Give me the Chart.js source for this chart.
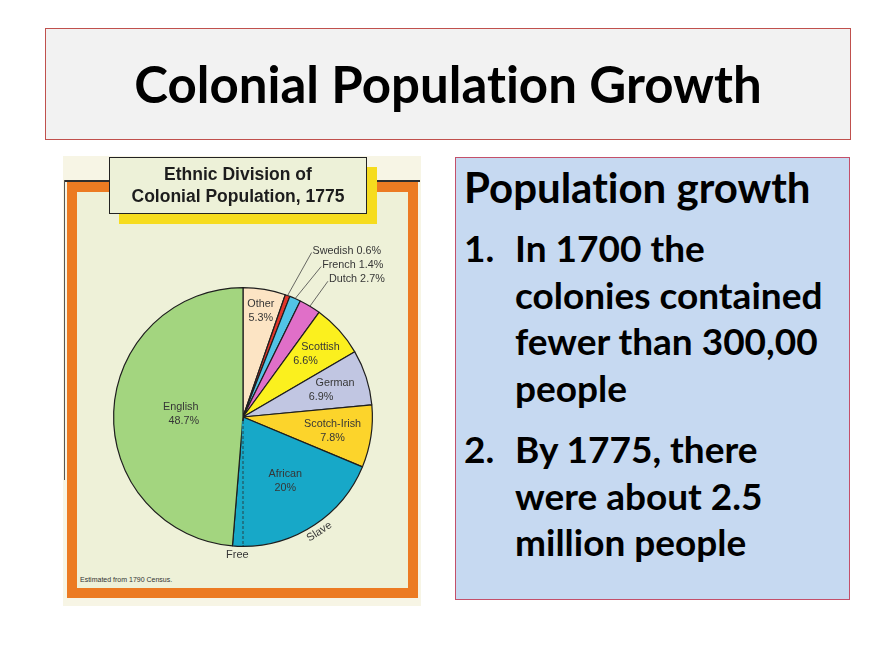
<!DOCTYPE html>
<html lang="en">
<head>
<meta charset="UTF-8">
<title>Colonial Population Growth</title>
<script src="https://cdn.jsdelivr.net/npm/chart.js"></script>
<style>
    body {
        margin: 0;
        background: #ffffff;
        font-family: Lato, "Open Sans", sans-serif;
        font-variant-ligatures: none;
        font-feature-settings: "liga" 0;
    }
    #slide {
        position: relative;
        width: 894px;
        height: 671px;
        overflow: hidden;
    }
    #title-box {
        position: absolute;
        left: 45px; top: 28px;
        width: 804px; height: 110px;
        background: #f2f2f2;
        border: 1px solid #c0504d;
        text-align: center;
        line-height: 110px;
        font-weight: 700;
        font-size: 51px;
        color: #000;
    }
    /* the scanned textbook figure */
    #scan {
        position: absolute;
        left: 63px; top: 156px;
        width: 358px; height: 450px;
        background: #f7f5e5;
    }
    #frame {
        position: absolute;
        left: 67px; top: 182px;
        width: 351px; height: 416px;
        box-sizing: border-box;
        border: 10px solid #ec7b22;
        background: #eef1d8;
    }
    #frame-line {
        position: absolute;
        left: 64px; top: 180px;
        width: 356px; height: 2px;
        background: #2e2e2e;
    }
    #frame-side {
        position: absolute;
        left: 64px; top: 180px;
        width: 1px; height: 300px;
        background: #555;
    }
    #chart-title {
        position: absolute;
        left: 109px; top: 157px;
        width: 258px; height: 57px;
        box-sizing: border-box;
        border: 1.5px solid #222;
        background: #edf1d8;
        box-shadow: 10px 10px 0 #f6dc1e;
        padding-top: 5px;
        text-align: center;
        font-family: "Liberation Sans", Arial, sans-serif;
        font-weight: bold;
        font-size: 17.5px;
        line-height: 22px;
        color: #1d1d1d;
        z-index: 2;
    }
    #chart-wrap {
        position: absolute;
        left: 62px; top: 155px;
        width: 360px; height: 448px;
        z-index: 1;
    }
    #note {
        position: absolute;
        left: 80px; top: 576px;
        font-family: "Liberation Sans", Arial, sans-serif;
        font-size: 7px;
        color: #333;
    }
    /* text panel on the right */
    #info {
        position: absolute;
        left: 455px; top: 157px;
        width: 395px; height: 443px;
        box-sizing: border-box;
        background: #c6d9f1;
        border: 1px solid #c4506a;
    }
    .txt {
        position: absolute;
        font-weight: 700;
        color: #000;
        white-space: nowrap;
    }
    #heading {
        left: 464px; top: 162px;
        font-size: 42px;
        line-height: 50px;
    }
    .item {
        left: 515px;
        font-size: 37px;
        line-height: 46.5px;
    }
    .item .num {
        position: absolute;
        left: -51px;
    }
</style>
</head>
<body>
<div id="slide">
    <div id="title-box">Colonial Population Growth</div>

    <div id="scan"></div>
    <div id="frame"></div>
    <div id="frame-line"></div>
    <div id="frame-side"></div>
    <div id="chart-title">Ethnic Division of<br>Colonial Population, 1775</div>
    <div id="chart-wrap"><canvas id="pie"></canvas></div>
    <div id="note">Estimated from 1790 Census.</div>

    <div id="info"></div>
    <div class="txt" id="heading">Population growth</div>
    <div class="txt item" style="top:225px"><span class="num">1.</span>In 1700 the<br>colonies contained<br>fewer than 300,00<br>people</div>
    <div class="txt item" style="top:426px"><span class="num">2.</span>By 1775, there<br>were about 2.5<br>million people</div>
</div>

<script>
    // share of the colonial population, clockwise from 12 o'clock
    var groups = ['Other', 'Swedish', 'French', 'Dutch', 'Scottish', 'German', 'Scotch-Irish', 'African', 'African', 'English'];
    var subgroups = ['', '', '', '', '', '', '', 'Slave', 'Free', ''];
    var shares = [5.3, 0.6, 1.4, 2.7, 6.6, 6.9, 7.8, 18.7, 1.3, 48.7];

    var sliceColors = ['#fce4c4', '#e2362a', '#52c3e6', '#e06fc8', '#fbf01e', '#c1c6e2', '#fcd42b', '#17a8c8', '#17a8c8', '#a3d57f'];

    // how each slice gets its text (style only)
    var labelStyle = [
        { inside: 0.83, skew: 0 },
        { callout: [24, -43] },
        { callout: [26, -32] },
        { callout: [18, -25] },
        { inside: 0.73, skew: 15 },
        { inside: 0.69, skew: 14 },
        { inside: 0.70, skew: 0 },
        { inside: 0.59, skew: 0, rim: 1.065, turn: true },
        { rim: 1.07 },
        { inside: 0.47, skew: -3 }
    ];

    function groupTotal(name) {
        var t = 0;
        for (var i = 0; i < groups.length; i++) {
            if (groups[i] === name) t += shares[i];
        }
        return Math.round(t * 10) / 10;
    }

    function pct(v) {
        return (v % 1 === 0 ? v.toFixed(0) : v.toFixed(1)) + '%';
    }

    var sliceText = {
        id: 'sliceText',
        afterDatasetsDraw: function (chart) {
            var ctx = chart.ctx;
            var arcs = chart.getDatasetMeta(0).data;
            ctx.save();

            // dashed split between slave and free
            var free = arcs[subgroups.indexOf('Free')];
            var a = free.startAngle;
            var R = free.outerRadius;
            ctx.beginPath();
            ctx.moveTo(free.x + Math.cos(a) * 4, free.y + Math.sin(a) * 4);
            ctx.lineTo(free.x + Math.cos(a) * (R - 1), free.y + Math.sin(a) * (R - 1));
            ctx.strokeStyle = sliceColors[7];
            ctx.lineWidth = 2.4;
            ctx.stroke();
            ctx.setLineDash([3, 2]);
            ctx.strokeStyle = '#2a2a2a';
            ctx.lineWidth = 0.8;
            ctx.stroke();
            ctx.setLineDash([]);

            ctx.font = '10.8px "Liberation Sans", Arial, sans-serif';
            ctx.fillStyle = '#363636';
            ctx.textBaseline = 'middle';

            arcs.forEach(function (arc, i) {
                var st = labelStyle[i];
                var mid = (arc.startAngle + arc.endAngle) / 2;
                var r = arc.outerRadius;
                var x, y;

                if (st.inside) {
                    x = arc.x + Math.cos(mid) * r * st.inside;
                    y = arc.y + Math.sin(mid) * r * st.inside;
                    ctx.textAlign = 'center';
                    ctx.fillText(groups[i], x + st.skew / 2, y - 7);
                    ctx.fillText(pct(groupTotal(groups[i])), x - st.skew / 2, y + 7);
                }
                if (st.callout) {
                    var x0 = arc.x + Math.cos(mid) * r;
                    var y0 = arc.y + Math.sin(mid) * r;
                    var x1 = x0 + st.callout[0];
                    var y1 = y0 + st.callout[1];
                    ctx.beginPath();
                    ctx.moveTo(x0, y0);
                    ctx.lineTo(x1, y1);
                    ctx.strokeStyle = '#444';
                    ctx.lineWidth = 0.8;
                    ctx.stroke();
                    ctx.textAlign = 'left';
                    ctx.fillText(groups[i] + ' ' + pct(shares[i]), x1 + 1, y1 - 2);
                }
                if (st.rim) {
                    x = arc.x + Math.cos(mid) * r * st.rim;
                    y = arc.y + Math.sin(mid) * r * st.rim;
                    ctx.save();
                    ctx.translate(x, y);
                    if (st.turn) ctx.rotate(mid - Math.PI / 2);
                    ctx.textAlign = 'center';
                    ctx.font = '11px "Liberation Sans", Arial, sans-serif';
                    ctx.fillText(subgroups[i], 0, 0);
                    ctx.restore();
                }
            });
            ctx.restore();
        }
    };

    function drawPie() {
        var ctx = document.getElementById('pie').getContext('2d');
        new Chart(ctx, {
            type: 'pie',
            data: {
                labels: groups.map(function (g, i) { return subgroups[i] ? g + ' (' + subgroups[i] + ')' : g; }),
                datasets: [{
                    data: shares,
                    backgroundColor: sliceColors,
                    borderColor: '#1e1e1e',
                    borderWidth: 1.2
                }]
            },
            options: {
                responsive: true,
                maintainAspectRatio: false,
                animation: false,
                events: [],
                layout: { padding: { left: 51, right: 49, top: 132, bottom: 56 } },
                plugins: {
                    legend: { display: false },
                    tooltip: { enabled: false }
                }
            },
            plugins: [sliceText]
        });
    }

    drawPie();
</script>
</body>
</html>
